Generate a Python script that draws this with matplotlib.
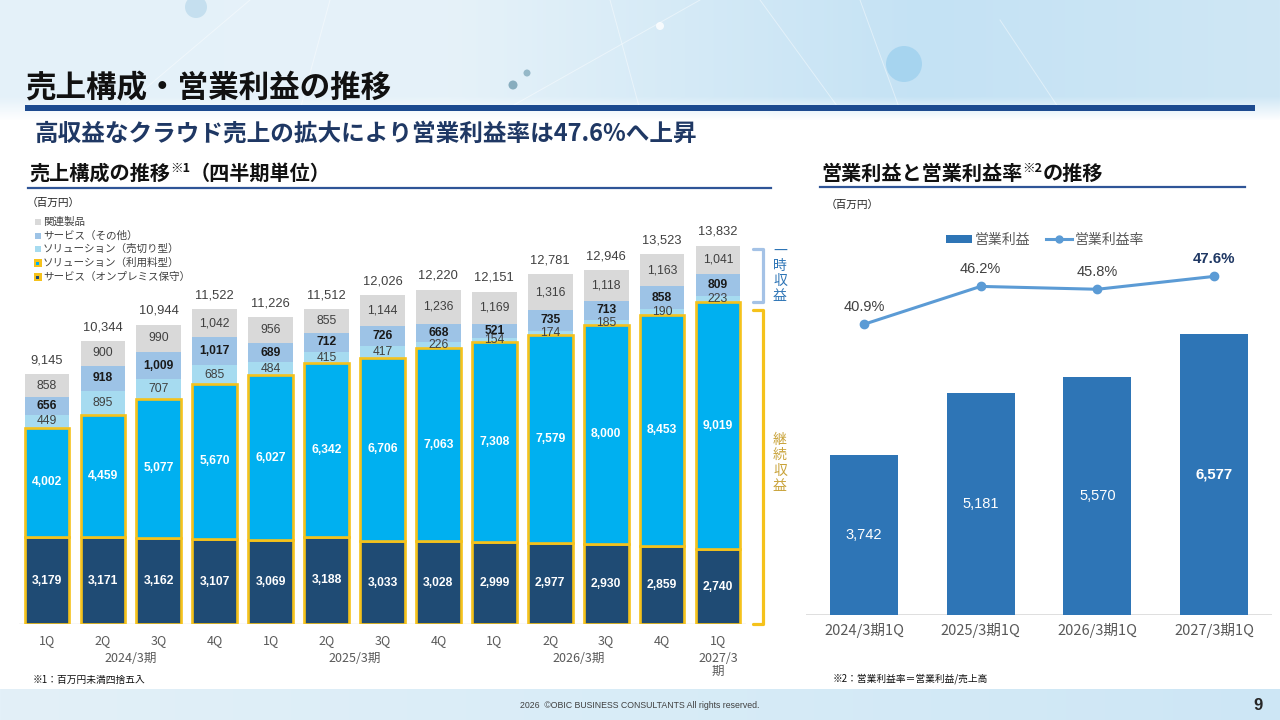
import numpy as np
import matplotlib
matplotlib.use('Agg')
import matplotlib.pyplot as plt
from matplotlib.patches import Rectangle, Circle, Patch
from matplotlib.lines import Line2D

plt.rcParams['font.family'] = ['Noto Sans CJK JP', 'DejaVu Sans']
NUM = ['Liberation Sans', 'Noto Sans CJK JP', 'DejaVu Sans']

# ---------------- data: left chart (quarterly sales composition, 百万円) ----------------
quarter_labels = ['1Q', '2Q', '3Q', '4Q', '1Q', '2Q', '3Q', '4Q', '1Q', '2Q', '3Q', '4Q', '1Q']
fiscal_labels = ['2024/3期', '2025/3期', '2026/3期', '2027/3\n期']
fiscal_centers = [1.5, 5.5, 9.5, 12]
svc_onprem = [3179, 3171, 3162, 3107, 3069, 3188, 3033, 3028, 2999, 2977, 2930, 2859, 2740]
sol_usage = [4002, 4459, 5077, 5670, 6027, 6342, 6706, 7063, 7308, 7579, 8000, 8453, 9019]
sol_sale = [449, 895, 707, 685, 484, 415, 417, 226, 154, 174, 185, 190, 223]
svc_other = [656, 918, 1009, 1017, 689, 712, 726, 668, 521, 735, 713, 858, 809]
related = [858, 900, 990, 1042, 956, 855, 1144, 1236, 1169, 1316, 1118, 1163, 1041]
totals = [9145, 10344, 10944, 11522, 11226, 11512, 12026, 12220, 12151, 12781, 12946, 13523, 13832]
legend_labels = ['関連製品', 'サービス（その他）', 'ソリューション（売切り型）',
                 'ソリューション（利用料型）', 'サービス（オンプレミス保守）']

# ---------------- data: right chart (operating profit & margin) ----------------
op_periods = ['2024/3期1Q', '2025/3期1Q', '2026/3期1Q', '2027/3期1Q']
op_profit = [3742, 5181, 5570, 6577]
op_margin = [40.9, 46.2, 45.8, 47.6]

# ---------------- colours ----------------
C_NAVY = '#1F4B74'
C_CYAN = '#00B0F0'
C_SALE = '#A6DBF0'
C_OTHER = '#9DC3E6'
C_REL = '#D9D9D9'
C_GOLD = '#F5C21B'
C_OP = '#2E75B6'
C_LINE = '#5B9BD5'
C_DARK = '#1F3864'

W, H = 1280, 720
fig = plt.figure(figsize=(12.8, 7.2), dpi=100)

# ---------------- background (pixel coordinate canvas) ----------------
bg = fig.add_axes([0, 0, 1, 1], zorder=0)
bg.set_xlim(0, W)
bg.set_ylim(H, 0)
bg.axis('off')


def hgrad(stops, n):
    xs = np.linspace(0, 1, n)
    pos = [s[0] for s in stops]
    out = np.zeros((n, 3))
    for c in range(3):
        out[:, c] = np.interp(xs, pos, [s[1][c] for s in stops])
    return out


def rgb(h):
    h = h.lstrip('#')
    return tuple(int(h[i:i + 2], 16) / 255 for i in (0, 2, 4))


header = hgrad([(0, rgb('#E4F1F9')), (0.35, rgb('#E6F2F9')), (0.72, rgb('#C4E2F4')),
                (1.0, rgb('#CFE7F5'))], W)
rows = np.arange(H)
alpha = np.clip((120 - rows) / 24.0, 0, 1)
img = alpha[:, None, None] * header[None, :, :] + (1 - alpha)[:, None, None] * np.ones((1, W, 3))
footer = hgrad([(0, rgb('#E3F0F8')), (0.5, rgb('#D8ECF7')), (1.0, rgb('#CDE6F5'))], W)
img[689:, :, :] = footer[None, :, :]
bg.imshow(img, extent=(0, W, H, 0), aspect='auto', zorder=0, interpolation='bilinear')

# header decoration
for (cx, cy, r, col, a) in [(904, 64, 18, '#A3D3EF', 0.9), (196, 7, 11, '#C2DEEE', 0.9),
                            (513, 85, 4.5, '#7EA6B8', 0.9), (527, 73, 3.5, '#8DB2C3', 0.9),
                            (660, 26, 4, '#FFFFFF', 0.8)]:
    bg.add_patch(Circle((cx, cy), r, color=col, alpha=a, zorder=1, lw=0))
for (x0, y0, x1, y1) in [(700, 0, 505, 110), (610, 0, 640, 110), (760, 0, 840, 110),
                         (250, 0, 120, 110), (330, 0, 300, 110), (1000, 20, 1060, 110),
                         (860, 0, 900, 110)]:
    bg.plot([x0, x1], [y0, y1], color='white', lw=0.7, alpha=0.45, zorder=1)

# title
bg.text(25, 88, '売上構成・営業利益の推移', fontsize=22, fontweight='bold', color='#111111',
        va='center', ha='left', zorder=3)
bg.add_patch(Rectangle((25, 105), 1230, 5.5, color='#1C4A8F', lw=0, zorder=3))
bg.text(35, 134, '高収益なクラウド売上の拡大により営業利益率は47.6%へ上昇', fontsize=17,
        fontweight='bold', color=C_DARK, va='center', ha='left', zorder=3)

renderer = fig.canvas.get_renderer()


def seq_text(x, y, parts):
    for txt, size, dy in parts:
        t = bg.text(x, y + dy, txt, fontsize=size, fontweight='bold', color='#111111',
                    va='center', ha='left', zorder=3)
        x += t.get_window_extent(renderer).width


seq_text(29, 173, [('売上構成の推移', 14.5, 0), ('※1', 9, -5), ('（四半期単位）', 14.5, 0)])
bg.plot([28, 771], [188, 188], color='#2F5597', lw=1.6, zorder=3)
seq_text(821, 173, [('営業利益と営業利益率', 14.5, 0), ('※2', 9, -5), ('の推移', 14.5, 0)])
bg.plot([820, 1245], [187, 187], color='#2F5597', lw=1.6, zorder=3)

bg.text(27, 203, '（百万円）', fontsize=7.7, color='#262626', va='center', ha='left', zorder=3)
bg.text(826, 205, '（百万円）', fontsize=7.7, color='#262626', va='center', ha='left', zorder=3)

# left legend
leg_colors = [C_REL, C_OTHER, C_SALE, C_CYAN, C_NAVY]
leg_y = [222, 235.5, 249, 263, 277]
for i, (lab, col, yy) in enumerate(zip(legend_labels, leg_colors, leg_y)):
    if i >= 3:
        bg.add_patch(Rectangle((33.5, yy - 4), 8, 8, facecolor=C_GOLD, lw=0, zorder=3))
        bg.add_patch(Rectangle((36, yy - 1.5), 3, 3, facecolor=col, lw=0, zorder=4))
    else:
        bg.add_patch(Rectangle((35, yy - 3), 6, 6, facecolor=col, lw=0, zorder=3))
    bg.text(43, yy, lab, fontsize=7.6, color='#404040', va='center', ha='left', zorder=3)

# footnotes / footer
bg.text(33, 680, '※1：百万円未満四捨五入', fontsize=7, color='#111111', va='center', ha='left', zorder=3)
bg.text(833, 679, '※2：営業利益率＝営業利益/売上高', fontsize=7, color='#111111', va='center',
        ha='left', zorder=3)
bg.text(640, 706, '2026  ©OBIC BUSINESS CONSULTANTS All rights reserved.', fontsize=6.3,
        color='#404040', va='center', ha='center', family=NUM, zorder=3)
bg.text(1258, 705, '9', fontsize=12, fontweight='bold', color='#262626', va='center',
        ha='center', family=NUM, zorder=3)


def add_px_axes(l, t, r, b, **kw):
    return fig.add_axes([l / W, 1 - b / H, (r - l) / W, (b - t) / H], **kw)


# ---------------- left chart ----------------
SCALE_L = 0.02735  # px per 百万円
ax = add_px_axes(19, 200, 746, 624, zorder=2)
ax.set_xlim(-0.5, 12.5)
ax.set_ylim(0, 424 / SCALE_L)
ax.patch.set_alpha(0)
for s in ax.spines.values():
    s.set_visible(False)
ax.tick_params(left=False, labelleft=False, bottom=False, length=0, pad=7)
x = np.arange(len(quarter_labels))
bw = 0.8
ax.axhline(0, color='#D9D9D9', lw=1, zorder=1)

bottom = np.zeros(len(x))
segs = [(svc_onprem, C_NAVY, True, 'white', 'bold'),
        (sol_usage, C_CYAN, True, 'white', 'bold'),
        (sol_sale, C_SALE, False, '#404040', 'normal'),
        (svc_other, C_OTHER, False, '#1A1A1A', 'bold'),
        (related, C_REL, False, '#404040', 'normal')]
for vals, col, gold, tcol, tw in segs:
    v = np.array(vals, dtype=float)
    if gold:
        ax.bar(x, v, bw, bottom=bottom, color=col, edgecolor=C_GOLD, lw=1.9, zorder=3)
    else:
        ax.bar(x, v, bw, bottom=bottom, color=col, lw=0, zorder=2)
    for i in range(len(x)):
        ax.text(x[i], bottom[i] + v[i] / 2, f'{int(v[i]):,}', ha='center', va='center',
                fontsize=8.7, color=tcol, fontweight=tw, family=NUM, zorder=5)
    bottom = bottom + v
for i in range(len(x)):
    ax.annotate(f'{totals[i]:,}', xy=(x[i], bottom[i]), xytext=(0, 10), textcoords='offset points',
                ha='center', va='center', fontsize=9.3, color='#404040', family=NUM,
                annotation_clip=False)

ax.set_xticks(x, quarter_labels)
for t in ax.get_xticklabels():
    t.set_fontsize(9)
    t.set_color('#595959')
for lab, c in zip(fiscal_labels, fiscal_centers):
    ax.annotate(lab, xy=(c, 0), xycoords=('data', 'axes fraction'), xytext=(0, -20),
                textcoords='offset points', ha='center', va='top', fontsize=9,
                color='#595959', linespacing=1.0, annotation_clip=False)

# brackets (一時収益 / 継続収益)
usage_top = svc_onprem[-1] + sol_usage[-1]
xi, xo = 12.63, 12.81
up_top, up_bot = totals[-1] - 120, usage_top
ax.plot([xi, xo, xo, xi], [up_top, up_top, up_bot, up_bot], color='#A4C2E6', lw=2.3,
        solid_joinstyle='round', solid_capstyle='round', clip_on=False, zorder=4)
lo_top, lo_bot = usage_top - 260, 0
ax.plot([xi, xo, xo, xi], [lo_top, lo_top, lo_bot, lo_bot], color=C_GOLD, lw=2.3,
        solid_joinstyle='round', solid_capstyle='round', clip_on=False, zorder=4)
for ch, yy in zip('一時収益', [251, 266, 281, 296]):
    bg.text(780, yy, ch, fontsize=10, color='#2E75B6', ha='center', va='center', zorder=3)
for ch, yy in zip('継続収益', [440, 455, 471, 486]):
    bg.text(780, yy, ch, fontsize=10, color='#C9A33A', ha='center', va='center', zorder=3)

# ---------------- right chart ----------------
SCALE_R = 0.0428
ax2 = add_px_axes(805.6, 225, 1272.4, 615, zorder=2)
ax2.set_xlim(-0.5, 3.5)
ax2.set_ylim(0, 390 / SCALE_R)
ax2.patch.set_alpha(0)
for s in ax2.spines.values():
    s.set_visible(False)
ax2.tick_params(left=False, labelleft=False, bottom=False, length=0, pad=6)
xr = np.arange(len(op_periods))
ax2.bar(xr, op_profit, 0.583, color=C_OP, zorder=2)
ax2.axhline(0, color='#D9D9D9', lw=1.2, zorder=1)
for i, v in enumerate(op_profit):
    last = i == len(op_profit) - 1
    ax2.text(xr[i], v / 2, f'{v:,}', ha='center', va='center', color='white',
             fontsize=10.8 if last else 10.5, fontweight='bold' if last else 'normal',
             family=NUM, zorder=4)
ax2.set_xticks(xr, op_periods)
for t in ax2.get_xticklabels():
    t.set_fontsize(10.5)
    t.set_color('#595959')

ax3 = ax2.twinx()
ax3.set_ylim(40.9 - 290.7 / 7.15, 40.9 + 99.3 / 7.15)
ax3.axis('off')
ax3.plot(xr, op_margin, color=C_LINE, lw=2.2, marker='o', ms=6, zorder=3)
for i, v in enumerate(op_margin):
    last = i == len(op_margin) - 1
    ax3.annotate(f'{v:.1f}%', xy=(xr[i], v), xytext=(0, 12.6), textcoords='offset points',
                 ha='center', va='center', fontsize=10.8 if last else 10.5,
                 fontweight='bold' if last else 'normal',
                 color=C_DARK if last else '#404040', family=NUM)

handles = [Patch(facecolor=C_OP, edgecolor='none'),
           Line2D([], [], color=C_LINE, lw=2.2, marker='o', ms=5)]
ax3.legend(handles, ['営業利益', '営業利益率'], ncol=2, loc='center',
           bbox_to_anchor=(1045 / W, 1 - 240 / H), bbox_transform=fig.transFigure,
           frameon=False, fontsize=10, handlelength=1.9, handleheight=0.55,
           handletextpad=0.2, columnspacing=1.1, labelcolor='#595959')

fig.savefig('out.png', dpi=100)
